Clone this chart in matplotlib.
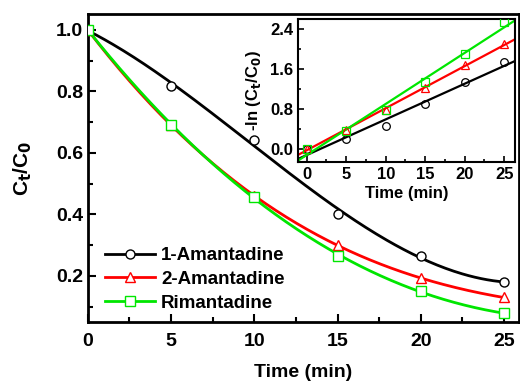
import numpy as np
import matplotlib.pyplot as plt
from matplotlib.ticker import MultipleLocator

plt.rcParams['font.family'] = ['Liberation Sans', 'DejaVu Sans']
plt.rcParams['font.weight'] = 'bold'
plt.rcParams['axes.labelweight'] = 'bold'
plt.rcParams['mathtext.default'] = 'bf'

# reaction time (min)
time = [0, 5, 10, 15, 20, 25]

# C_t/C_0
amant1 = [1.0, 0.818, 0.641, 0.402, 0.266, 0.179]
amant2 = [1.0, 0.690, 0.460, 0.301, 0.192, 0.130]
riman = [1.0, 0.692, 0.456, 0.266, 0.151, 0.078]

# -ln(C_t/C_0)
ln_amant1 = [0.0, 0.19, 0.45, 0.90, 1.33, 1.73]
ln_amant2 = [0.0, 0.38, 0.78, 1.21, 1.68, 2.09]
ln_riman = [0.0, 0.36, 0.78, 1.33, 1.90, 2.55]

labels = ['1-Amantadine', '2-Amantadine', 'Rimantadine']
colors = ['black', '#ff0000', '#00e600']
markers = ['o', '^', 's']

fig = plt.figure(figsize=(5.2, 3.88), dpi=100)
ax = fig.add_axes([0.169, 0.170, 0.829, 0.794])

t = np.asarray(time, dtype=float)
tt = np.linspace(0, 25, 200)
for y, lab, c, m in zip([amant1, amant2, riman], labels, colors, markers):
    p = np.polyfit(t, y, 3)
    ax.plot(tt, np.polyval(p, tt), color=c, lw=2, zorder=2)
    ax.plot(t, y, ls='none', marker=m, ms=6.5, mfc='white', mec=c, mew=1.0, zorder=3)
    # legend proxy
    ax.plot([], [], color=c, lw=2, marker=m, ms=6.5, mfc='white', mec=c, mew=1.0, label=lab)

ax.set_xlim(0, 25.9)
ax.set_ylim(0.05, 1.052)
ax.xaxis.set_major_locator(MultipleLocator(5))
ax.xaxis.set_minor_locator(MultipleLocator(2.5))
ax.yaxis.set_major_locator(MultipleLocator(0.2))
ax.yaxis.set_minor_locator(MultipleLocator(0.1))
ax.tick_params(which='both', direction='in', width=1.5, labelsize=14)
ax.tick_params(which='major', length=6)
ax.tick_params(which='minor', length=3.5)
ax.tick_params(axis='x', pad=8)
for s in ax.spines.values():
    s.set_linewidth(2)
ax.set_xlabel('Time (min)', fontsize=14, labelpad=10)
ax.set_ylabel('C$_t$/C$_0$', fontsize=15, labelpad=16)
ax.legend(loc='lower left', bbox_to_anchor=(0.015, 0.0), frameon=False, fontsize=13.5,
          handlelength=2.7, handletextpad=0.3, labelspacing=0.35, borderaxespad=0.15)

# inset
ins = fig.add_axes([0.573, 0.582, 0.418, 0.369])
xx = np.linspace(-1.1, 26.4, 50)
for y, c, m in zip([ln_amant1, ln_amant2, ln_riman], colors, markers):
    p = np.polyfit(t, y, 1)
    ins.plot(xx, np.polyval(p, xx), color=c, lw=1.6, zorder=2)
    ins.plot(t, y, ls='none', marker=m, ms=5.5, mfc='none', mec=c, mew=0.9, zorder=3)
ins.set_xlim(-1.1, 26.4)
ins.set_ylim(-0.27, 2.6)
ins.xaxis.set_major_locator(MultipleLocator(5))
ins.xaxis.set_minor_locator(MultipleLocator(2.5))
ins.yaxis.set_major_locator(MultipleLocator(0.8))
ins.yaxis.set_minor_locator(MultipleLocator(0.4))
ins.tick_params(which='both', direction='in', width=1.2, labelsize=12)
ins.tick_params(which='major', length=4)
ins.tick_params(which='minor', length=2.5)
for s in ins.spines.values():
    s.set_linewidth(1.5)
ins.set_xlabel('Time (min)', fontsize=12, labelpad=3)
ins.set_ylabel('-ln (C$_t$/C$_0$)', fontsize=12, labelpad=5)

fig.savefig('out.png', dpi=100)
